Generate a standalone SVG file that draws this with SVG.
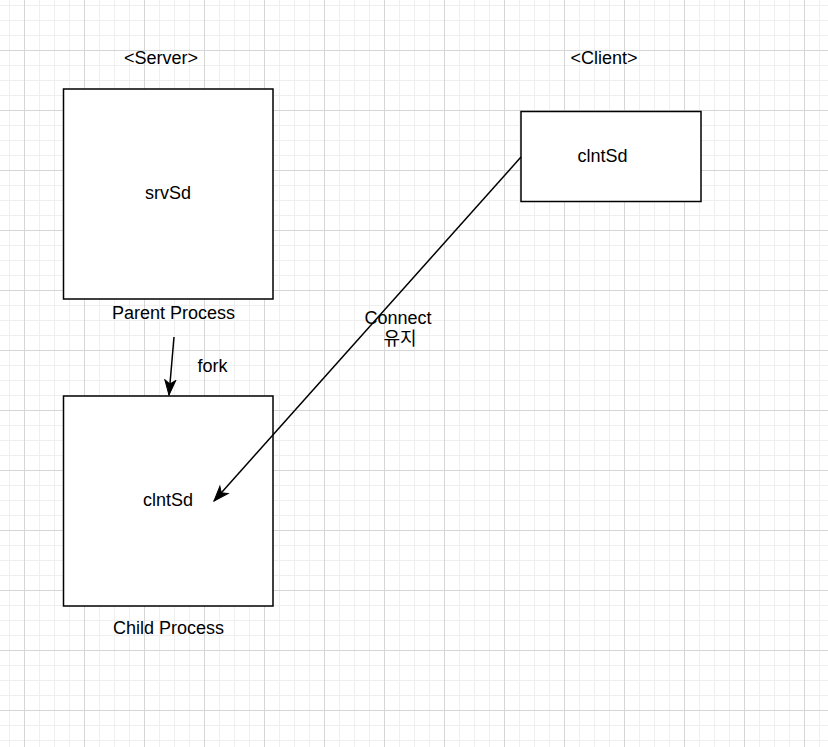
<svg xmlns="http://www.w3.org/2000/svg" width="828" height="747" viewBox="0 0 828 747">
<style>
.box{fill:#ffffff;stroke:#000000;stroke-width:1.5}
.lbl{font-family:"Liberation Sans",Arial,"Noto Sans CJK KR",sans-serif;font-size:18px;fill:#000000;text-anchor:middle}
.edge{fill:none;stroke:#000000;stroke-width:1.5}
</style>
<defs>
<pattern id="grid" patternUnits="userSpaceOnUse" x="24" y="50" width="60" height="60">
<path d="M15.5,0V60M30.5,0V60M45.5,0V60M0,15.5H60M0,30.5H60M0,45.5H60" stroke="#efefef" stroke-width="1" fill="none"/>
<path d="M0.5,0V60M0,0.5H60" stroke="#d6d6d6" stroke-width="1" fill="none"/>
</pattern>
<marker id="arrow" markerUnits="userSpaceOnUse" markerWidth="20" markerHeight="20" viewBox="-16 -8 20 16" refX="0" refY="0" orient="auto">
<path d="M0,0L-15,-5.5L-11,0L-15,5.5Z" fill="#000000" stroke="#000000" stroke-width="1"/>
</marker>
</defs>
<rect x="0" y="0" width="828" height="747" fill="#ffffff"/>
<rect x="0" y="0" width="828" height="747" fill="url(#grid)"/>
<text class="lbl" x="161" y="63.5">&lt;Server&gt;</text>
<text class="lbl" x="604" y="64">&lt;Client&gt;</text>
<g id="parent">
<rect class="box" x="63.5" y="89" width="209.5" height="210"/>
<text class="lbl" x="168" y="198.5">srvSd</text>
<text class="lbl" x="173.5" y="318.5">Parent Process</text>
</g>
<g id="child">
<rect class="box" x="63.5" y="396" width="209.5" height="210"/>
<text class="lbl" x="168" y="506">clntSd</text>
<text class="lbl" x="168.5" y="633.5">Child Process</text>
</g>
<g id="client">
<rect class="box" x="521" y="111.5" width="180" height="90"/>
<text class="lbl" x="602.5" y="162">clntSd</text>
</g>
<g id="connectors">
<path class="edge" d="M174,337L169,395" marker-end="url(#arrow)"/>
<text class="lbl" x="212.5" y="372">fork</text>
<path class="edge" d="M521,157L214,501" marker-end="url(#arrow)"/>
<text class="lbl" x="398" y="324">Connect</text>
<text class="lbl" x="400" y="344.5">유지</text>
</g>
</svg>
